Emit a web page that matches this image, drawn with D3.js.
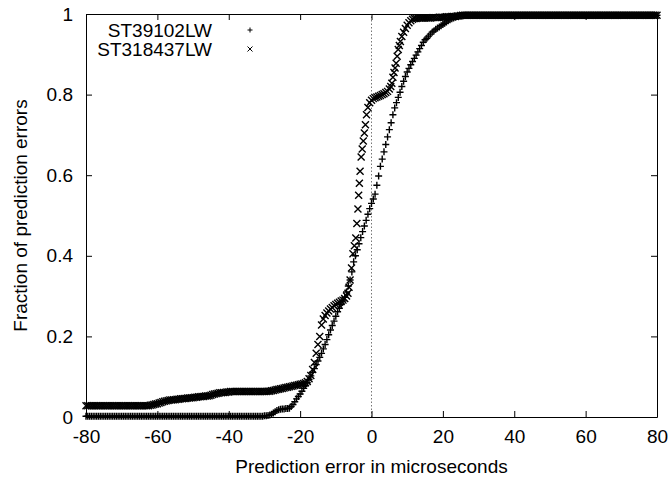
<!DOCTYPE html>
<html>
<head>
<meta charset="utf-8">
<script src="https://cdnjs.cloudflare.com/ajax/libs/d3/7.8.5/d3.min.js"></script>
<style>
  body { margin: 0; background: #fff; }
  text { font-family: "Liberation Sans", Arial, sans-serif; fill: #000; }
</style>
</head>
<body>
<div class="cdf"></div>
<script>
var xTicks = [-80, -60, -40, -20, 0, 20, 40, 60, 80];
var yTicks = [0, 0.2, 0.4, 0.6, 0.8, 1];
var seriesNames = ["ST39102LW", "ST318437LW"];

// ST39102LW (plotted with +)
var st39102X = [
  -80,-79.5,-79,-78.5,-78,-77.5,-77,-76.5,-76,-75.5,-75,-74.5,-74,-73.5,-73,-72.5,-72,-71.5,-71,-70.5,
  -70,-69.5,-69,-68.5,-68,-67.5,-67,-66.5,-66,-65.5,-65,-64.5,-64,-63.5,-63,-62.5,-62,-61.5,-61,-60.5,
  -60,-59.5,-59,-58.5,-58,-57.5,-57,-56.5,-56,-55.5,-55,-54.5,-54,-53.5,-53,-52.5,-52,-51.5,-51,-50.5,
  -50,-49.5,-49,-48.5,-48,-47.5,-47,-46.5,-46,-45.5,-45,-44.5,-44,-43.5,-43,-42.5,-42,-41.5,-41,-40.5,
  -40,-39.5,-39,-38.5,-38,-37.5,-37,-36.5,-36,-35.5,-35,-34.5,-34,-33.5,-33,-32.5,-32,-31.5,-31,-30.5,
  -30,-29.5,-29,-28.5,-28,-27.5,-27,-26.5,-26,-25.5,-25,-24.5,-24,-23.5,-23,
  -22.5,-22,-21.5,-21,-20.5,-20,-19.5,-19,-18.5,-18,-17.5,-17,-16.5,-16,-15.5,-15,
  -14.5,-14,-13.5,-13,-12.5,-12,-11.5,-11,-10.5,-10,-9.5,-9,-8.5,-8,-7.5,-7,-6.5,-6,
  -5.5,-5,-4.5,-4,-3.5,-3,-2.5,-2,-1.5,-1,-0.5,0,0.5,1,1.5,2,2.5,3,3.5,4,4.5,5,
  5.5,6,6.5,7,7.5,8,8.5,9,9.5,10,10.5,11,11.5,12,12.5,13,13.5,14,14.5,15,15.5,16,
  16.5,17,17.5,18,18.5,19,19.5,20,20.5,21,21.5,22,22.5,23,23.5,24,24.5,25,
  25.5,26,26.5,27,27.5,28,28.5,29,29.5,30,30.5,31,31.5,32,32.5,33,33.5,34,34.5,35,
  35.5,36,36.5,37,37.5,38,38.5,39,39.5,40,40.5,41,41.5,42,42.5,43,43.5,44,44.5,45,
  45.5,46,46.5,47,47.5,48,48.5,49,49.5,50,50.5,51,51.5,52,52.5,53,53.5,54,54.5,55,
  55.5,56,56.5,57,57.5,58,58.5,59,59.5,60,60.5,61,61.5,62,62.5,63,63.5,64,64.5,65,
  65.5,66,66.5,67,67.5,68,68.5,69,69.5,70,70.5,71,71.5,72,72.5,73,73.5,74,74.5,75,
  75.5,76,76.5,77,77.5,78,78.5,79,79.5,80
];
var st39102Y = [
  0.002,0.002,0.002,0.002,0.002,0.002,0.002,0.002,0.002,0.002,0.002,0.002,0.002,0.002,0.002,0.002,0.002,0.002,0.002,0.002,
  0.002,0.002,0.002,0.002,0.002,0.002,0.002,0.002,0.002,0.002,0.002,0.002,0.002,0.002,0.002,0.002,0.002,0.002,0.002,0.002,
  0.002,0.002,0.002,0.002,0.002,0.002,0.002,0.002,0.002,0.002,0.002,0.002,0.002,0.002,0.002,0.002,0.002,0.002,0.002,0.002,
  0.002,0.002,0.002,0.002,0.002,0.002,0.002,0.002,0.002,0.002,0.002,0.002,0.002,0.002,0.002,0.002,0.002,0.002,0.002,0.002,
  0.002,0.002,0.002,0.002,0.002,0.002,0.002,0.002,0.002,0.002,0.002,0.002,0.002,0.002,0.002,0.002,0.002,0.002,0.002,0.002,
  0.003,0.003,0.004,0.005,0.007,0.010,0.013,0.016,0.018,0.019,0.020,0.020,0.021,0.021,0.022,
  0.026,0.031,0.038,0.045,0.051,0.057,0.064,0.071,0.078,0.085,0.093,0.102,0.111,0.120,0.130,0.139,
  0.148,0.158,0.169,0.180,0.192,0.204,0.216,0.227,0.238,0.250,0.261,0.270,0.279,0.288,0.297,0.310,0.325,0.340,
  0.360,0.385,0.400,0.415,0.430,0.445,0.460,0.474,0.488,0.503,0.517,0.530,0.541,0.553,0.575,0.598,0.622,0.640,0.658,0.676,0.695,0.713,
  0.730,0.750,0.767,0.780,0.793,0.806,0.820,0.833,0.845,0.856,0.865,0.874,0.882,0.890,0.898,0.906,0.914,0.922,0.930,0.936,0.940,0.945,
  0.950,0.955,0.958,0.962,0.965,0.968,0.971,0.974,0.977,0.980,0.983,0.986,0.988,0.990,0.992,0.994,0.995,0.996,
  0.997,0.997,0.997,0.997,0.997,0.997,0.997,0.997,0.997,0.997,0.997,0.997,0.997,0.997,0.997,0.997,0.997,0.997,0.997,0.997,
  0.997,0.997,0.997,0.997,0.997,0.997,0.997,0.997,0.997,0.997,0.997,0.997,0.997,0.997,0.997,0.997,0.997,0.997,0.997,0.997,
  0.997,0.997,0.997,0.997,0.997,0.997,0.997,0.997,0.997,0.997,0.997,0.997,0.997,0.997,0.997,0.997,0.997,0.997,0.997,0.997,
  0.997,0.997,0.997,0.997,0.997,0.997,0.997,0.997,0.997,0.997,0.997,0.997,0.997,0.997,0.997,0.997,0.997,0.997,0.997,0.997,
  0.997,0.997,0.997,0.997,0.997,0.997,0.997,0.997,0.997,0.997,0.997,0.997,0.997,0.997,0.997,0.997,0.997,0.997,0.997,0.997,
  0.997,0.997,0.997,0.997,0.997,0.997,0.997,0.997,0.997,0.997
];

// ST318437LW (plotted with x)
var st318437X = [
  -80,-79.5,-79,-78.5,-78,-77.5,-77,-76.5,-76,-75.5,-75,-74.5,-74,-73.5,-73,-72.5,-72,-71.5,-71,-70.5,
  -70,-69.5,-69,-68.5,-68,-67.5,-67,-66.5,-66,-65.5,-65,-64.5,-64,-63.5,-63,-62.5,
  -62,-61.5,-61,-60.5,-60,-59.5,-59,-58.5,-58,-57.5,-57,-56.5,-56,-55.5,-55,-54.5,-54,-53.5,-53,-52.5,
  -52,-51.5,-51,-50.5,-50,-49.5,-49,-48.5,-48,-47.5,-47,-46.5,-46,-45.5,-45,-44.5,-44,-43.5,-43,-42.5,
  -42,-41.5,-41,-40.5,-40,
  -39.5,-39,-38.5,-38,-37.5,-37,-36.5,-36,-35.5,-35,-34.5,-34,-33.5,-33,-32.5,-32,-31.5,-31,-30.5,-30,
  -29.5,-29,-28.5,-28,-27.5,-27,-26.5,-26,-25.5,-25,-24.5,-24,-23.5,-23,-22.5,-22,-21.5,-21,-20.5,-20,
  -19.5,-19,
  -18.5,-18,-17.5,-17,-16.5,-16,-15.5,-15,-14.5,-14,-13.5,-13,-12.5,-12,-11.5,-11,
  -10.5,-10,-9.5,-9,-8.5,-8,-7.5,-7,-6.6,-6.3,-6,-5.6,-5.2,-4.8,-4.4,-4.1,-3.8,-3.6,
  -3.4,-3.2,-2.9,-2.6,-2.3,-2,-1.7,-1.4,-1,-0.5,0,0.5,1,1.5,2,2.5,3,3.5,4,4.5,5,
  5.4,5.7,6,6.3,6.6,6.9,7.2,7.5,7.8,8.1,8.5,9,9.5,10,10.5,11,11.5,12,
  12.5,13,13.5,14,14.5,15,15.5,16,16.5,17,17.5,18,18.5,19,19.5,20,20.5,21,21.5,22,22.5,23,23.5,24,24.5,25,
  25.5,26,26.5,27,27.5,28,28.5,29,29.5,30,30.5,31,31.5,32,32.5,33,33.5,34,34.5,35,
  35.5,36,36.5,37,37.5,38,38.5,39,39.5,40,40.5,41,41.5,42,42.5,43,43.5,44,44.5,45,
  45.5,46,46.5,47,47.5,48,48.5,49,49.5,50,50.5,51,51.5,52,52.5,53,53.5,54,54.5,55,
  55.5,56,56.5,57,57.5,58,58.5,59,59.5,60,60.5,61,61.5,62,62.5,63,63.5,64,64.5,65,
  65.5,66,66.5,67,67.5,68,68.5,69,69.5,70,70.5,71,71.5,72,72.5,73,73.5,74,74.5,75,
  75.5,76,76.5,77,77.5,78,78.5,79,79.5,80
];
var st318437Y = [
  0.028,0.028,0.028,0.028,0.028,0.028,0.028,0.028,0.028,0.028,0.028,0.028,0.028,0.028,0.028,0.028,0.028,0.028,0.028,0.028,
  0.028,0.028,0.028,0.028,0.028,0.028,0.028,0.028,0.028,0.028,0.028,0.028,0.028,0.028,0.028,0.028,
  0.029,0.030,0.031,0.032,0.033,0.035,0.036,0.038,0.039,0.040,0.041,0.042,0.042,0.043,0.043,0.044,0.044,0.045,0.045,0.046,
  0.046,0.047,0.047,0.048,0.048,0.049,0.049,0.050,0.050,0.051,0.051,0.052,0.052,0.053,0.054,0.056,0.057,0.058,0.059,0.060,
  0.060,0.061,0.061,0.062,0.062,
  0.063,0.063,0.063,0.063,0.063,0.063,0.063,0.063,0.063,0.063,0.063,0.063,0.063,0.063,0.063,0.063,0.063,0.063,0.063,0.063,
  0.063,0.064,0.064,0.065,0.066,0.067,0.068,0.069,0.070,0.071,0.072,0.073,0.074,0.075,0.076,0.077,0.078,0.079,0.080,0.081,
  0.082,0.083,
  0.085,0.088,0.095,0.103,0.118,0.135,0.158,0.180,0.200,0.228,0.243,0.252,0.258,0.263,0.268,0.272,
  0.276,0.279,0.282,0.285,0.288,0.290,0.294,0.300,0.307,0.322,0.340,0.370,0.405,0.425,0.444,0.480,0.516,0.550,
  0.580,0.610,0.645,0.665,0.685,0.705,0.725,0.750,0.768,0.780,0.786,0.790,0.792,0.794,0.796,0.798,0.800,0.802,0.805,0.808,0.814,
  0.820,0.828,0.843,0.855,0.866,0.878,0.895,0.912,0.922,0.932,0.944,0.955,0.964,0.972,0.978,0.983,0.987,0.989,
  0.989,0.990,0.990,0.990,0.990,0.990,0.990,0.990,0.990,0.991,0.991,0.991,0.991,0.992,0.992,0.992,0.992,0.993,0.993,0.993,0.994,0.994,0.994,0.995,0.995,0.996,
  0.997,0.997,0.997,0.997,0.997,0.997,0.997,0.997,0.997,0.997,0.997,0.997,0.997,0.997,0.997,0.997,0.997,0.997,0.997,0.997,
  0.997,0.997,0.997,0.997,0.997,0.997,0.997,0.997,0.997,0.997,0.997,0.997,0.997,0.997,0.997,0.997,0.997,0.997,0.997,0.997,
  0.997,0.997,0.997,0.997,0.997,0.997,0.997,0.997,0.997,0.997,0.997,0.997,0.997,0.997,0.997,0.997,0.997,0.997,0.997,0.997,
  0.997,0.997,0.997,0.997,0.997,0.997,0.997,0.997,0.997,0.997,0.997,0.997,0.997,0.997,0.997,0.997,0.997,0.997,0.997,0.997,
  0.997,0.997,0.997,0.997,0.997,0.997,0.997,0.997,0.997,0.997,0.997,0.997,0.997,0.997,0.997,0.997,0.997,0.997,0.997,0.997,
  0.997,0.997,0.997,0.997,0.997,0.997,0.997,0.997,0.997,0.997
];

var width = 669, height = 477;
var margin = ({ top: 14, right: 12, bottom: 60, left: 86 });
var fontSize = 19;
var ms = 3.5; // marker half size

var x = d3.scaleLinear().domain([-80, 80]).range([margin.left, width - margin.right]);
var y = d3.scaleLinear().domain([0, 1]).range([height - margin.bottom, margin.top]);

var svg = d3.select(".cdf")
    .append("svg")
    .attr("width", width)
    .attr("height", height)
    .attr("font-size", fontSize);

// zero line
svg.append("line")
    .attr("x1", x(0)).attr("x2", x(0))
    .attr("y1", y(0)).attr("y2", y(1))
    .attr("stroke", "#777")
    .attr("stroke-width", 1)
    .attr("stroke-dasharray", "1.5,2");

function plus(cx, cy, s) {
    return "M" + (cx - s) + "," + cy + "H" + (cx + s) + "M" + cx + "," + (cy - s) + "V" + (cy + s);
}
function cross(cx, cy, s) {
    return "M" + (cx - s) + "," + (cy - s) + "L" + (cx + s) + "," + (cy + s) +
        "M" + (cx - s) + "," + (cy + s) + "L" + (cx + s) + "," + (cy - s);
}

function pairs(xs, ys) {
    var n = Math.min(xs.length, ys.length);
    if (xs.length !== ys.length) console.warn("length mismatch", xs.length, ys.length);
    return xs.slice(0, n).map((d, i) => ({ x: d, y: ys[i] }));
}
var dataA = pairs(st39102X, st39102Y);
var dataB = pairs(st318437X, st318437Y);

svg.append("g").selectAll("path")
    .data(dataA)
    .enter().append("path")
    .attr("d", d => plus(x(d.x), y(d.y), ms))
    .attr("stroke", "#000")
    .attr("stroke-width", 1.4)
    .attr("fill", "none");

svg.append("g").selectAll("path")
    .data(dataB)
    .enter().append("path")
    .attr("d", d => cross(x(d.x), y(d.y), ms))
    .attr("stroke", "#000")
    .attr("stroke-width", 1.4)
    .attr("fill", "none");

// axes, gnuplot style: inward ticks mirrored on all sides
svg.append("g")
    .attr("transform", "translate(0," + y(0) + ")")
    .call(d3.axisBottom(x).tickValues(xTicks).tickSizeInner(-6).tickSizeOuter(0).tickPadding(12.5).tickFormat(d => String(d)));
svg.append("g")
    .attr("transform", "translate(" + x(-80) + ",0)")
    .call(d3.axisLeft(y).tickValues(yTicks).tickSizeInner(-6).tickSizeOuter(0).tickPadding(13).tickFormat(d => String(d)));
svg.append("g")
    .attr("transform", "translate(0," + y(1) + ")")
    .call(d3.axisTop(x).tickValues(xTicks).tickSizeInner(-6).tickSizeOuter(0).tickFormat(""));
svg.append("g")
    .attr("transform", "translate(" + x(80) + ",0)")
    .call(d3.axisRight(y).tickValues(yTicks).tickSizeInner(-6).tickSizeOuter(0).tickFormat(""));

svg.selectAll(".tick text")
    .attr("font-size", fontSize)
    .attr("font-family", "Liberation Sans, Arial, sans-serif")
    .attr("fill", "#000");
svg.selectAll(".domain").attr("stroke", "#000");
svg.selectAll(".tick line").attr("stroke", "#000");

// axis titles
svg.append("text")
    .attr("x", (x(-80) + x(80)) / 2)
    .attr("y", 473)
    .attr("text-anchor", "middle")
    .text("Prediction error in microseconds");

svg.append("text")
    .attr("transform", "translate(27," + (y(0) + y(1)) / 2 + ") rotate(-90)")
    .attr("text-anchor", "middle")
    .text("Fraction of prediction errors");

// legend
var legend = svg.append("g").selectAll("g")
    .data(seriesNames)
    .enter().append("g");
legend.append("text")
    .attr("x", 212)
    .attr("y", (d, i) => 37 + i * 19)
    .attr("text-anchor", "end")
    .text(d => d);
legend.append("path")
    .attr("d", (d, i) => i === 0 ? plus(250, 30 + i * 19, 2.5) : cross(250, 30 + i * 19, 2.5))
    .attr("stroke", "#000")
    .attr("stroke-width", 1)
    .attr("fill", "none");
</script>
</body>
</html>
